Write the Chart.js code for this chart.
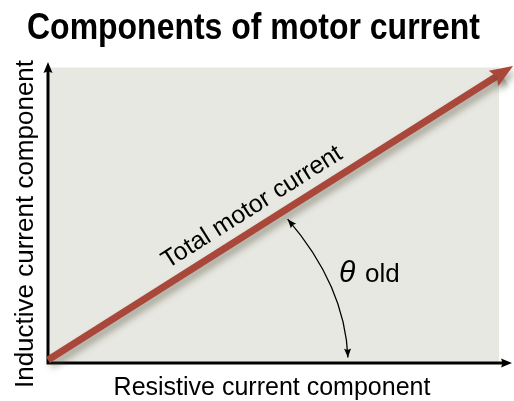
<!DOCTYPE html>
<html>
<head>
<meta charset="utf-8">
<script src="https://cdn.jsdelivr.net/npm/chart.js@4.4.1/dist/chart.umd.min.js"></script>
<style>
	html, body { margin: 0; padding: 0; background: #fff; }
	#wrap { width: 514px; height: 401px; }
</style>
</head>
<body>
<div id="wrap"><canvas id="motorChart"></canvas></div>
<script>
// vector of total current: (resistive component, inductive component)
const resistive = [0, 100];
const inductive = [0, 100];
const xRange = [0, 100];
const yRange = [-1, 100];

// texts
const chartTitle = 'Components of motor current';
const xTitle = 'Resistive current component';
const yTitle = 'Inductive current component';
const vectorLabel = 'Total motor current';
const angleSymbol = 'θ';
const angleName = 'old';

const colors = {
	vector: '#a9473a',
	panel: '#e8e8e2',
	ink: '#000',
	shadow: 'rgba(70, 70, 50, 0.45)'
};

const sans = '"Liberation Sans", Arial, sans-serif';

// draws a filled triangle with the tip at (x, y) pointing along angle
function arrowHead(ctx, x, y, angle, len, halfW){
	ctx.save();
	ctx.translate(x, y);
	ctx.rotate(angle);
	ctx.beginPath();
	ctx.moveTo(0, 0);
	ctx.lineTo(-len, -halfW);
	ctx.lineTo(-len * 0.85, 0);
	ctx.lineTo(-len, halfW);
	ctx.closePath();
	ctx.fill();
	ctx.restore();
}

function vectorEnds(chart){
	const pts = chart.getDatasetMeta(0).data;
	const p0 = pts[0], p1 = pts[pts.length - 1];
	const ang = Math.atan2(p1.y - p0.y, p1.x - p0.x);
	return { p0, p1, ang };
}

const diagramPlugin = {
	id: 'diagram',
	beforeDatasetsDraw(chart){
		const { ctx, chartArea: a, scales: { x, y } } = chart;
		ctx.save();
		// background panel
		const px = x.getPixelForValue(97);
		const py = y.getPixelForValue(99.5);
		ctx.fillStyle = colors.panel;
		ctx.fillRect(a.left, py, px - a.left, a.bottom - py);
		// axes with arrows
		ctx.strokeStyle = colors.ink;
		ctx.fillStyle = colors.ink;
		ctx.lineWidth = 3;
		ctx.beginPath();
		ctx.moveTo(a.left, a.bottom + 1.5);
		ctx.lineTo(a.left, a.top + 2);
		ctx.moveTo(a.left - 1.5, a.bottom);
		ctx.lineTo(a.right - 8, a.bottom);
		ctx.stroke();
		arrowHead(ctx, a.left, a.top - 4, -Math.PI / 2, 11, 4.5);
		arrowHead(ctx, a.right - 1, a.bottom, 0, 11, 4.5);
		ctx.restore();
	},
	beforeDatasetDraw(chart){
		const { ctx } = chart;
		const { p1, ang } = vectorEnds(chart);
		ctx.save();
		// cut the shaft before the arrow head
		const bx = p1.x - Math.cos(ang) * 14, by = p1.y - Math.sin(ang) * 14;
		ctx.translate(bx, by);
		ctx.rotate(ang);
		ctx.beginPath();
		ctx.rect(-2000, -1000, 2000, 2000);
		ctx.rotate(-ang);
		ctx.translate(-bx, -by);
		ctx.clip();
		ctx.shadowColor = colors.shadow;
		ctx.shadowBlur = 7;
		ctx.shadowOffsetX = 3;
		ctx.shadowOffsetY = 5;
	},
	afterDatasetDraw(chart){
		const { ctx } = chart;
		ctx.restore();
		const { p1, ang } = vectorEnds(chart);
		ctx.save();
		ctx.shadowColor = colors.shadow;
		ctx.shadowBlur = 7;
		ctx.shadowOffsetX = 3;
		ctx.shadowOffsetY = 5;
		ctx.fillStyle = colors.vector;
		arrowHead(ctx, p1.x, p1.y, ang, 23, 9);
		ctx.restore();
	},
	afterDatasetsDraw(chart){
		const { ctx, scales: { x, y } } = chart;
		const { p0, p1, ang } = vectorEnds(chart);
		const along = t => ({ x: p0.x + (p1.x - p0.x) * t, y: p0.y + (p1.y - p0.y) * t });
		ctx.save();
		// label along the vector
		const c = along(0.462);
		ctx.translate(c.x, c.y);
		ctx.rotate(ang);
		ctx.fillStyle = colors.ink;
		ctx.font = '25px ' + sans;
		ctx.textAlign = 'center';
		ctx.textBaseline = 'alphabetic';
		ctx.fillText(vectorLabel, 0, -13);
		ctx.restore();

		// angle arrow between vector and x axis
		const s = along(0.505);
		const start = { x: s.x - Math.sin(ang) * 9, y: s.y + Math.cos(ang) * 9 };
		const end = { x: x.getPixelForValue(64.5), y: y.getPixelForValue(0) - 2.5 };
		const cp = { x: end.x - 3, y: start.y + (end.y - start.y) * 0.48 };
		ctx.save();
		ctx.strokeStyle = colors.ink;
		ctx.fillStyle = colors.ink;
		ctx.lineWidth = 1.3;
		ctx.beginPath();
		ctx.moveTo(start.x, start.y);
		ctx.quadraticCurveTo(cp.x, cp.y, end.x, end.y);
		ctx.stroke();
		arrowHead(ctx, start.x, start.y, Math.atan2(start.y - cp.y, start.x - cp.x), 9, 3.5);
		arrowHead(ctx, end.x, end.y, Math.atan2(end.y - cp.y, end.x - cp.x), 9, 3.5);

		// angle label
		const lx = x.getPixelForValue(62.6), ly = y.getPixelForValue(26.5);
		ctx.textBaseline = 'alphabetic';
		ctx.textAlign = 'left';
		ctx.font = 'italic 30px ' + sans;
		ctx.fillText(angleSymbol, lx, ly);
		ctx.font = '26px ' + sans;
		ctx.fillText(angleName, lx + 26, ly);
		ctx.restore();
	},
	afterDraw(chart){
		const { ctx } = chart;
		ctx.save();
		ctx.fillStyle = colors.ink;
		ctx.textBaseline = 'alphabetic';
		// main title, squeezed to a condensed look
		ctx.font = 'bold 37px ' + sans;
		ctx.textAlign = 'left';
		const w = ctx.measureText(chartTitle).width;
		ctx.save();
		ctx.translate(27, 39);
		ctx.scale(453 / w, 1);
		ctx.fillText(chartTitle, 0, 0);
		ctx.restore();
		// x axis title
		ctx.font = '25px ' + sans;
		ctx.textAlign = 'center';
		ctx.fillText(xTitle, 272, 395);
		// y axis title
		ctx.translate(33, 224);
		ctx.rotate(-Math.PI / 2);
		ctx.font = '26px ' + sans;
		ctx.fillText(yTitle, 0, 0);
		ctx.restore();
	}
};

new Chart(document.getElementById('motorChart'), {
	type: 'scatter',
	data: {
		datasets: [{
			label: vectorLabel,
			data: resistive.map((v, i) => ({ x: v, y: inductive[i] })),
			showLine: true,
			borderColor: colors.vector,
			backgroundColor: colors.vector,
			borderWidth: 7,
			borderCapStyle: 'butt',
			pointRadius: 0,
			pointHoverRadius: 0,
			clip: false
		}]
	},
	options: {
		responsive: true,
		maintainAspectRatio: false,
		animation: false,
		events: [],
		layout: { padding: { left: 48, right: 1, top: 66, bottom: 38 } },
		plugins: {
			legend: { display: false },
			title: { display: false },
			tooltip: { enabled: false }
		},
		scales: {
			x: { type: 'linear', min: xRange[0], max: xRange[1], display: false },
			y: { type: 'linear', min: yRange[0], max: yRange[1], display: false }
		}
	},
	plugins: [diagramPlugin]
});
</script>
</body>
</html>
